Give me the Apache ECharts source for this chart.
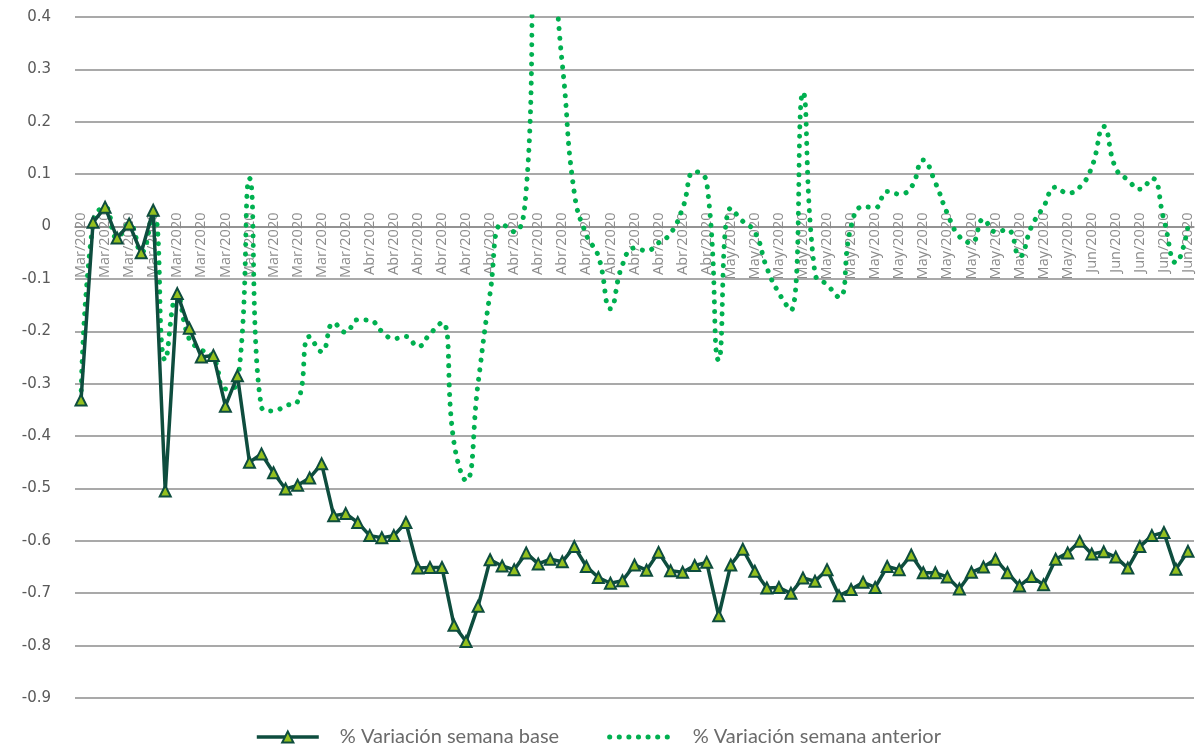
<!DOCTYPE html>
<html>
<head>
<meta charset="utf-8">
<script src="https://cdn.jsdelivr.net/npm/echarts@6/dist/echarts.min.js"></script>
<style>
  html, body { margin: 0; padding: 0; background: #fff; }
  #myChart { width: 1196px; height: 755px; }
</style>
</head>
<body>
<div id="myChart"></div>
<script>
// categorias: un punto por dia, 9 mar - 9 jun 2020
const monthLabels = ['Mar/2020', 'Abr/2020', 'May/2020', 'Jun/2020'];
const daysPerMonth = [23, 30, 31, 9];

const seriesNames = ['% Variación semana base', '% Variación semana anterior'];

const variacionBase = [
  -0.331, 0.008, 0.037, -0.022, 0.005, -0.050, 0.031, -0.505, -0.128, -0.194,
  -0.249, -0.246, -0.343, -0.285, -0.450, -0.434, -0.470, -0.501, -0.494, -0.480,
  -0.453, -0.552, -0.548, -0.565, -0.590, -0.594, -0.590, -0.565, -0.652, -0.651,
  -0.651, -0.761, -0.792, -0.725, -0.636, -0.648, -0.655, -0.623, -0.644, -0.635,
  -0.640, -0.611, -0.649, -0.670, -0.681, -0.676, -0.646, -0.656, -0.622, -0.657,
  -0.660, -0.647, -0.641, -0.743, -0.646, -0.616, -0.658, -0.690, -0.689, -0.700,
  -0.671, -0.677, -0.655, -0.705, -0.693, -0.679, -0.689, -0.649, -0.655, -0.627,
  -0.661, -0.661, -0.669, -0.692, -0.660, -0.650, -0.635, -0.661, -0.686, -0.668,
  -0.684, -0.635, -0.623, -0.601, -0.625, -0.621, -0.631, -0.652, -0.611, -0.590,
  -0.584, -0.654, -0.620
];

const variacionAnterior = [
  -0.331, 0.008, 0.037, -0.022, 0.005, -0.050, 0.031, -0.255, -0.130, -0.215,
  -0.235, -0.250, -0.310, -0.300, 0.092, -0.345, -0.352, -0.342, -0.334, -0.210,
  -0.239, -0.184, -0.202, -0.178, -0.179, -0.200, -0.214, -0.210, -0.229, -0.205,
  -0.183, -0.413, -0.485, -0.299, -0.127, 0.005, -0.010, 0.070, 0.550, 0.500,
  0.310, 0.064, -0.016, -0.057, -0.157, -0.073, -0.041, -0.046, -0.031, -0.013,
  0.035, 0.105, 0.085, -0.255, 0.035, 0.010, -0.010, -0.079, -0.127, -0.160,
  0.256, -0.090, -0.111, -0.135, 0.000, 0.038, 0.036, 0.067, 0.062, 0.075,
  0.127, 0.084, 0.025, -0.019, -0.031, 0.014, -0.010, -0.006, -0.057, 0.000,
  0.038, 0.075, 0.064, 0.075, 0.113, 0.191, 0.111, 0.089, 0.071, 0.092,
  0.013, -0.069, 0.000
];

const categories = [];
monthLabels.forEach((m, i) => {
  for (let d = 0; d < daysPerMonth[i]; d++) categories.push(m);
});

const yMin = -0.9, yMax = 0.4;
const gridTop = 17, gridBottom = 57;

let myChart = echarts.init(document.getElementById('myChart'));

// el eje x va en la linea del cero, no abajo
const plotH = 755 - gridTop - gridBottom;
const zeroOffset = -plotH * (0 - yMin) / (yMax - yMin);

const dotted = { color: '#00b050', width: 5, type: [0.1, 9.5], cap: 'round' };

let option = {
  animation: false,
  grid: {
    left: 75,
    right: 2,
    top: gridTop,
    bottom: gridBottom
  },
  legend: {
    bottom: 3,
    left: 'center',
    itemWidth: 62,
    itemHeight: 14,
    itemGap: 48,
    textStyle: {
      fontFamily: 'Lato',
      fontSize: 20,
      color: '#6b6b6b',
      padding: [0, 0, 0, 16]
    },
    data: [
      { name: seriesNames[0], lineStyle: { width: 3.5, color: '#0e4d3e' } },
      { name: seriesNames[1], itemStyle: { opacity: 0 }, lineStyle: dotted }
    ]
  },
  xAxis: {
    type: 'category',
    data: categories,
    boundaryGap: true,
    offset: zeroOffset,
    axisLine: { onZero: false, lineStyle: { color: '#8c8c8c', width: 1.5 } },
    axisTick: { show: false },
    axisLabel: {
      interval: 1,
      rotate: 90,
      margin: -14,
      color: '#8c8c8c',
      fontFamily: 'Open Sans',
      fontSize: 14.5
    }
  },
  yAxis: {
    type: 'value',
    min: yMin,
    max: yMax,
    interval: 0.1,
    axisLine: { show: false },
    axisTick: { show: false },
    splitLine: { lineStyle: { color: '#8c8c8c', width: 1.5 } },
    axisLabel: {
      margin: 24,
      color: '#595959',
      fontFamily: 'DejaVu Sans',
      fontSize: 15,
      formatter: v => String(Math.round(v * 10) / 10)
    }
  },
  series: [
    {
      name: seriesNames[0],
      type: 'line',
      data: variacionBase,
      symbol: 'triangle',
      symbolSize: 11,
      showSymbol: true,
      showAllSymbol: true,
      lineStyle: { color: '#0e4d3e', width: 3.5 },
      itemStyle: { color: '#93c01f', borderColor: '#0e4d3e', borderWidth: 2 },
      z: 3
    },
    {
      name: seriesNames[1],
      type: 'line',
      data: variacionAnterior,
      smooth: 0.5,
      symbol: 'none',
      lineStyle: dotted,
      itemStyle: { color: '#00b050' },
      z: 2
    }
  ]
};

myChart.setOption(option);
</script>
</body>
</html>
